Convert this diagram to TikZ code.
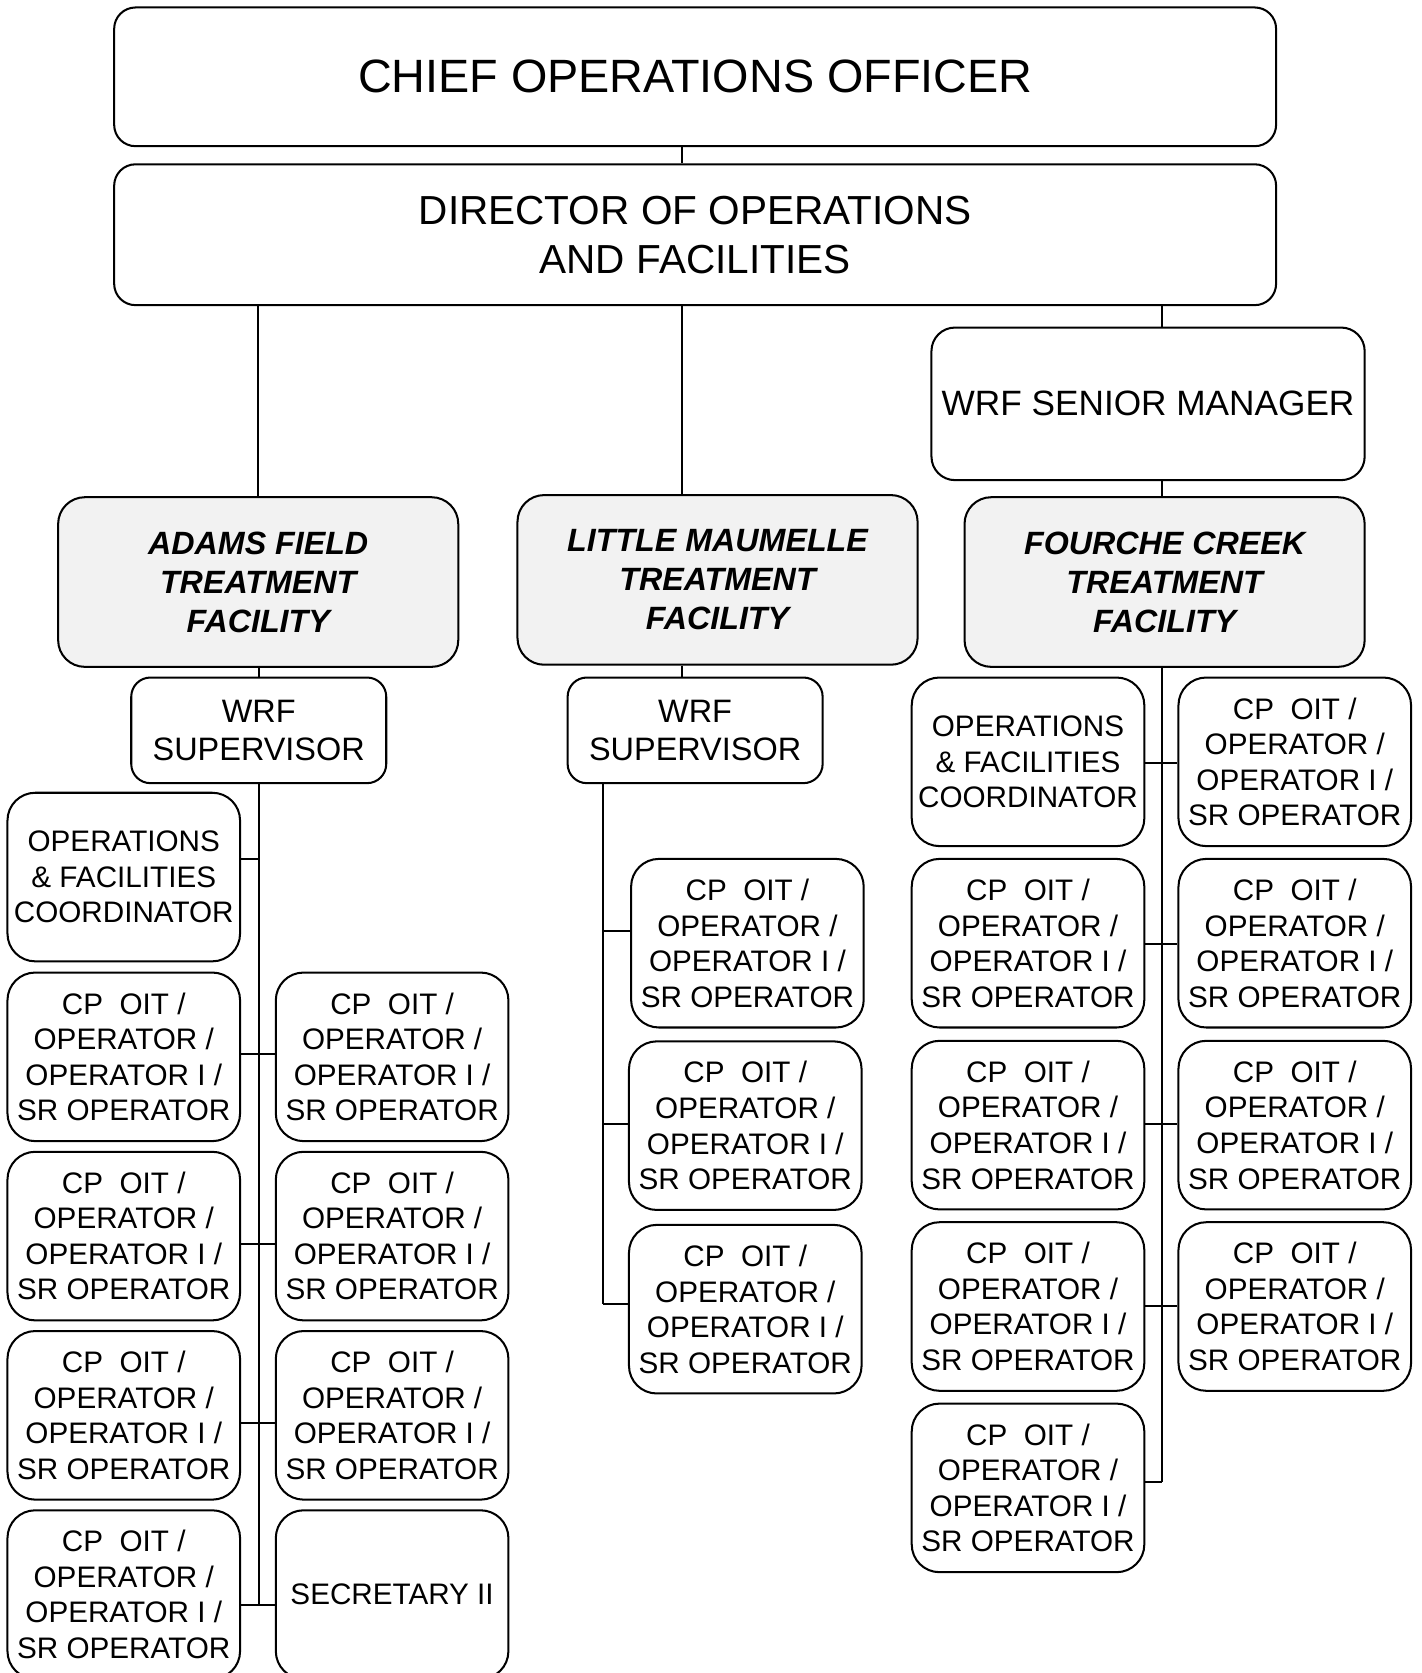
\documentclass[tikz,border=0pt]{standalone}
\usepackage{fontspec}
\setmainfont{Liberation Sans}
\usepackage{tikz}
\definecolor{plantgrey}{RGB}{242,242,242}
\newcommand{\oprole}{CP\ \ OIT /\\OPERATOR /\\OPERATOR I /\\SR OPERATOR}

\begin{document}
\begin{tikzpicture}[x=1pt, y=-1pt, line width=1.9pt,
		head/.style={draw, rounded corners=20pt, minimum width=1089pt, inner sep=0pt, align=center},
		plant/.style={draw, fill=plantgrey, rounded corners=25pt, minimum width=375pt, minimum height=159pt, inner sep=0pt, align=center, font=\fontsize{30.2pt}{36.5pt}\selectfont\bfseries\itshape},
		super/.style={draw, rounded corners=18pt, minimum width=239pt, minimum height=99pt, inner sep=0pt, align=center, font=\fontsize{30.4pt}{36pt}\selectfont},
		staff/.style={draw, rounded corners=26pt, minimum width=218pt, minimum height=158pt, inner sep=0pt, align=center, font=\fontsize{27.8pt}{33.3pt}\selectfont}]
		\useasboundingbox (0,0) rectangle (1332,1568);
		% top of the chart
		\node[head, minimum height=130pt, font=\fontsize{43.8pt}{50pt}\selectfont] (ceo)at(651.5,72) {CHIEF OPERATIONS OFFICER};
		\node[head, minimum height=132pt, font=\fontsize{38pt}{46pt}\selectfont] (dir)at(651.5,220) {DIRECTOR OF OPERATIONS\\AND FACILITIES};
		\node[draw, rounded corners=22pt, minimum width=406pt, minimum height=143pt, inner sep=0pt, font=\fontsize{33pt}{40pt}\selectfont] (wsm)at(1076,378.5) {WRF SENIOR MANAGER};
		
		% the three plants
		\node[plant] (adams)at(242,545.5) {ADAMS FIELD\\TREATMENT\\FACILITY};
		\node[plant] (lm)at(672.5,543.5) {LITTLE MAUMELLE\\TREATMENT\\FACILITY};
		\node[plant] (fc)at(1091.5,545.5) {FOURCHE CREEK\\TREATMENT\\FACILITY};
		\node[super] (asup)at(242.5,684.5) {WRF\\SUPERVISOR};
		\node[super] (lsup)at(651.5,684.5) {WRF\\SUPERVISOR};
		
		% adams field staff
		\node[staff] (aoc)at(116,822) {OPERATIONS\\\& FACILITIES\\COORDINATOR};
		\node[staff] (al1)at(116,990.5) {\oprole};
		\node[staff] (ar1)at(367.5,990.5) {\oprole};
		\node[staff] (al2)at(116,1158.5) {\oprole};
		\node[staff] (ar2)at(367.5,1158.5) {\oprole};
		\node[staff] (al3)at(116,1326.5) {\oprole};
		\node[staff] (ar3)at(367.5,1326.5) {\oprole};
		\node[staff] (al4)at(116,1494.5) {\oprole};
		\node[staff] (asec)at(367.5,1494.5) {SECRETARY II};
		
		% little maumelle staff
		\node[staff] (lo1)at(700.5,884) {\oprole};
		\node[staff] (lo2)at(698.5,1055) {\oprole};
		\node[staff] (lo3)at(698.5,1227) {\oprole};
		
		% fourche creek staff
		\node[staff] (foc)at(963.5,714) {OPERATIONS\\\& FACILITIES\\COORDINATOR};
		\node[staff] (fr0)at(1213.5,714) {\oprole};
		\node[staff] (fl1)at(963.5,884) {\oprole};
		\node[staff] (fr1)at(1213.5,884) {\oprole};
		\node[staff] (fl2)at(963.5,1054.5) {\oprole};
		\node[staff] (fr2)at(1213.5,1054.5) {\oprole};
		\node[staff] (fl3)at(963.5,1224.5) {\oprole};
		\node[staff] (fr3)at(1213.5,1224.5) {\oprole};
		\node[staff] (fl4)at(963.5,1394.5) {\oprole};
		
		% junctions on the vertical lines
		\coordinate (tc)at(639,0);
		\coordinate (a0)at(242.5,805);
		\coordinate (a1)at(242.5,988);
		\coordinate (a2)at(242.5,1166);
		\coordinate (a3)at(242.5,1334);
		\coordinate (a4)at(242.5,1504);
		\coordinate (l1)at(565,873);
		\coordinate (l2)at(565,1053);
		\coordinate (l3)at(565,1222);
		\coordinate (f0)at(1089,715);
		\coordinate (f1)at(1089,885);
		\coordinate (f2)at(1089,1053);
		\coordinate (f3)at(1089,1224);
		\coordinate (f4)at(1089,1389);
		
		\draw (ceo.south -| tc) -- (dir.north -| tc);
		\draw (dir.south -| adams.north) -- (adams.north);
		\draw (dir.south -| tc) -- (lm.north -| tc);
		\draw (dir.south -| f0) -- (wsm.north -| f0);
		\draw (wsm.south -| f0) -- (fc.north -| f0);
		\draw (adams.south -| a0) -- (asup.north -| a0);
		\draw (lm.south -| tc) -- (lsup.north -| tc);
		
		\draw (asup.south -| a0) -- (a4);
		\draw (aoc.east |- a0) -- (a0);
		\draw (al1.east |- a1) -- (ar1.west |- a1);
		\draw (al2.east |- a2) -- (ar2.west |- a2);
		\draw (al3.east |- a3) -- (ar3.west |- a3);
		\draw (al4.east |- a4) -- (asec.west |- a4);
		
		\draw (lsup.south -| l1) -- (l3);
		\draw (l1) -- (lo1.west |- l1);
		\draw (l2) -- (lo2.west |- l2);
		\draw (l3) -- (lo3.west |- l3);
		
		\draw (fc.south -| f0) -- (f4);
		\draw (foc.east |- f0) -- (fr0.west |- f0);
		\draw (fl1.east |- f1) -- (fr1.west |- f1);
		\draw (fl2.east |- f2) -- (fr2.west |- f2);
		\draw (fl3.east |- f3) -- (fr3.west |- f3);
		\draw (fl4.east |- f4) -- (f4);
	\end{tikzpicture}
\end{document}
